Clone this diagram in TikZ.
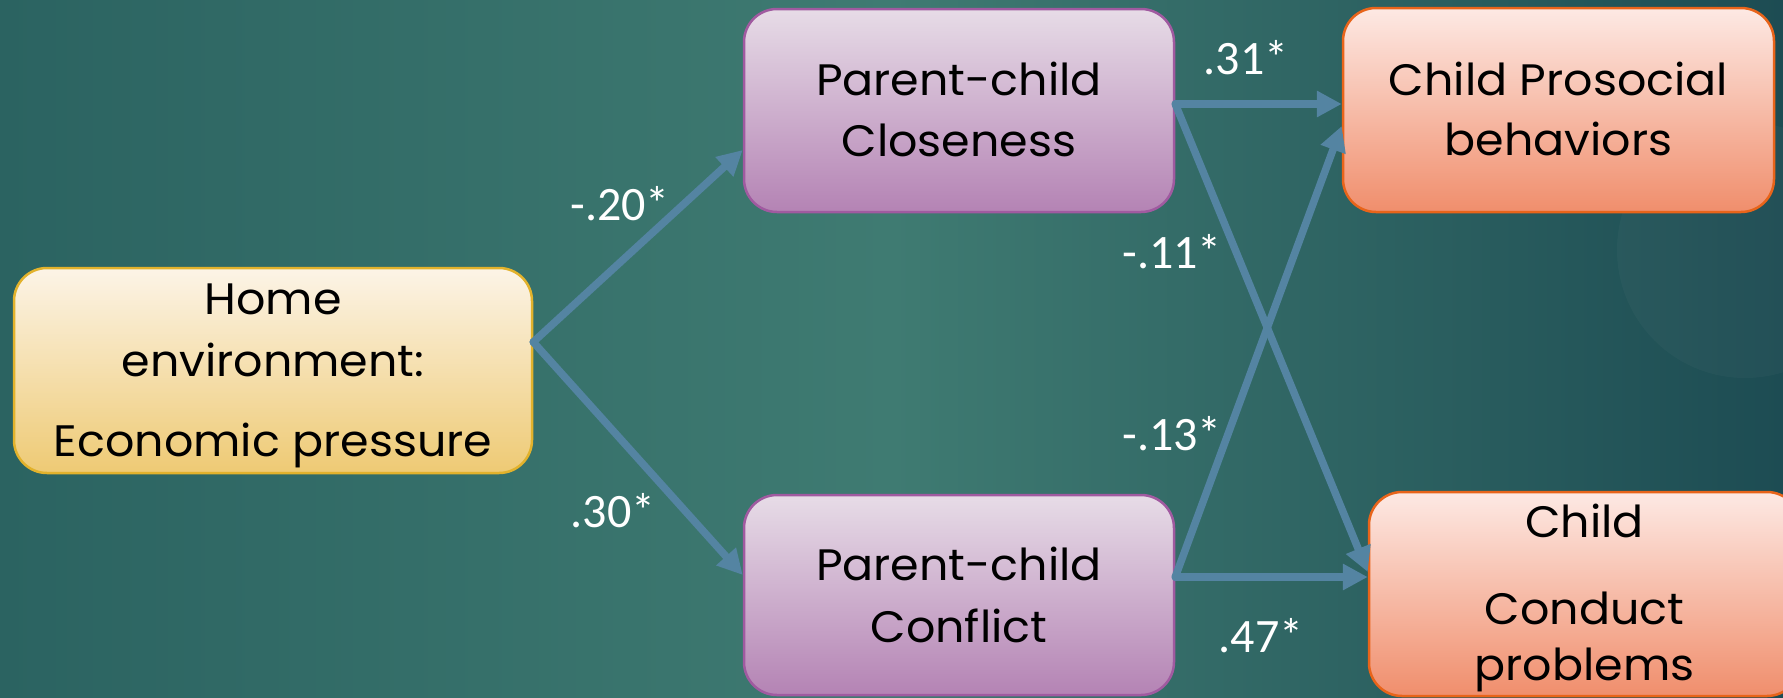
\documentclass[tikz,border=0pt]{standalone}
\usepackage{fontspec}
\usetikzlibrary{arrows.meta}
\newfontfamily\boxfont{Poppins}[FakeStretch=1.045]
\newfontfamily\labfont{Carlito}
\definecolor{bgL}{HTML}{2B6361}
\definecolor{bgM}{HTML}{3F7B72}
\definecolor{bgR}{HTML}{1D4C53}
\definecolor{homeT}{HTML}{FCF4E7}
\definecolor{homeB}{HTML}{EECA74}
\definecolor{homeD}{HTML}{E2B22C}
\definecolor{purT}{HTML}{E7DCE7}
\definecolor{purB}{HTML}{B483B4}
\definecolor{purD}{HTML}{A05AA0}
\definecolor{orT}{HTML}{FDE9E4}
\definecolor{orB}{HTML}{F08E6C}
\definecolor{orD}{HTML}{E8641A}
\definecolor{arr}{HTML}{5484A2}
\tikzset{
  boxbase/.style={rounded corners=33pt, line width=2.5pt, inner sep=0pt},
  homebox/.style={boxbase, draw=homeD, top color=homeT, bottom color=homeB},
  purbox/.style={boxbase, draw=purD, top color=purT, bottom color=purB},
  orbox/.style={boxbase, draw=orD, top color=orT, bottom color=orB},
  txt/.style={anchor=base, inner sep=0pt, font=\boxfont\fontsize{44}{52}\selectfont, text=black},
  lab/.style={anchor=base, inner sep=0pt, font=\labfont\fontsize{48}{56}\selectfont, text=white},
  link/.style={draw=arr, line width=7.5pt, line cap=round, -{Triangle[length=25pt,width=25pt]}}
}
\begin{document}
\begin{tikzpicture}[x=1pt,y=-1pt]
\useasboundingbox (0,0) rectangle (1783,697);
\shade[left color=bgL, right color=bgR, middle color=bgM] (0,0) rectangle (1783,697);
\fill[white, opacity=0.028] (1745,250) circle (128);
% boxes
\node[homebox, minimum width=518pt, minimum height=205pt] (home) at (273,370.5) {};
\node[purbox, minimum width=430pt, minimum height=203pt] (close) at (959,110.5) {};
\node[purbox, minimum width=430pt, minimum height=200pt] (confl) at (959,595) {};
\node[orbox, minimum width=431pt, minimum height=204pt] (pros) at (1558.5,110) {};
\node[orbox, minimum width=431pt, minimum height=204pt] (cond) at (1584.5,594) {};
% box texts
\node[txt] (h1) at (273,314) {Home};
\node[txt] (h2) at (273,376) {environment:};
\node[txt] (h3) at (273,456) {Economic pressure};
\node[txt] (c1) at (959,95) {Parent-child};
\node[txt] (c2) at (959,156) {Closeness};
\node[txt] (f1) at (959,580) {Parent-child};
\node[txt] (f2) at (959,642) {Conflict};
\node[txt] (p1) at (1558.5,95) {Child Prosocial};
\node[txt] (p2) at (1558.5,155) {behaviors};
\node[txt] (d1) at (1584.5,537) {Child};
\node[txt] (d2) at (1584.5,624) {Conduct};
\node[txt] (d3) at (1584.5,680) {problems};
% connectors
\draw[link] ([yshift=28.5pt]home.east) -- ([yshift=-39.5pt]close.west);
\draw[link] ([yshift=28.5pt]home.east) -- ([yshift=20pt]confl.west);
\draw[link] ([yshift=6.5pt]close.east) -- ([yshift=6pt]pros.west);
\draw[link] ([yshift=6.5pt]close.east) -- ([yshift=22pt]cond.west);
\draw[link] ([yshift=18pt]confl.east) -- ([yshift=-16pt]pros.west);
\draw[link] ([yshift=18pt]confl.east) -- ([yshift=17pt]cond.west);
% labels
\node[lab] (l1) at (620,220) {-.20*};
\node[lab] (l2) at (613,527) {.30*};
\node[lab] (l3) at (1246,74) {.31*};
\node[lab] (l4) at (1172,268) {-.11*};
\node[lab] (l5) at (1172,450) {-.13*};
\node[lab] (l6) at (1261,652) {.47*};
\end{tikzpicture}
\end{document}
